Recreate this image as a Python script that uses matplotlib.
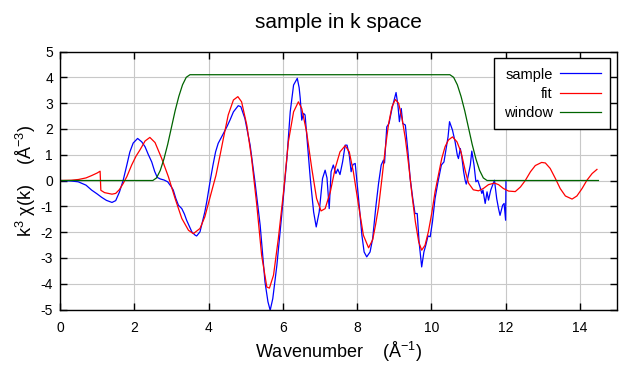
import matplotlib
matplotlib.use("Agg")
import matplotlib.pyplot as plt

plt.rcParams['font.family'] = ['Liberation Sans', 'DejaVu Sans']
plt.rcParams['mathtext.fontset'] = 'custom'
plt.rcParams['mathtext.rm'] = 'Liberation Sans'
plt.rcParams['mathtext.default'] = 'regular'
plt.rcParams['axes.unicode_minus'] = False

# sample data (k, k^3 chi)
k_sample = [0.0, 0.3, 0.49, 0.7, 0.85, 1.0, 1.12, 1.25, 1.4, 1.5, 1.6, 1.7, 1.8, 1.88, 1.97,
            2.09, 2.2, 2.29, 2.38, 2.47, 2.55, 2.62, 2.7, 2.8, 2.9, 3.0, 3.05, 3.12, 3.19,
            3.28, 3.35, 3.41, 3.55, 3.64, 3.68, 3.77, 3.9, 3.96, 4.04, 4.12, 4.19, 4.26,
            4.32, 4.4, 4.5, 4.58, 4.67, 4.8, 4.87, 4.98, 5.12, 5.25, 5.39, 5.52, 5.6, 5.66,
            5.73, 5.84, 5.97, 6.11, 6.2, 6.29, 6.39, 6.44, 6.47, 6.51, 6.56, 6.6, 6.66,
            6.74, 6.83, 6.9, 6.98, 7.07, 7.14, 7.19, 7.25, 7.3, 7.36, 7.43, 7.48, 7.54,
            7.61, 7.68, 7.73, 7.79, 7.84, 7.89, 7.95, 8.04, 8.13, 8.19, 8.26, 8.35, 8.42,
            8.51, 8.58, 8.65, 8.71, 8.74, 8.8, 8.86, 8.94, 9.01, 9.05, 9.1, 9.14, 9.19,
            9.23, 9.3, 9.37, 9.43, 9.5, 9.56, 9.62, 9.67, 9.74, 9.8, 9.85, 9.91, 9.97,
            10.03, 10.1, 10.18, 10.27, 10.34, 10.4, 10.45, 10.49, 10.57, 10.64, 10.7,
            10.73, 10.78, 10.82, 10.87, 10.91, 10.94, 10.98, 11.05, 11.09, 11.15, 11.2,
            11.25, 11.31, 11.36, 11.39, 11.45, 11.5, 11.54, 11.6, 11.65, 11.7, 11.76,
            11.81, 11.85, 11.92, 11.96, 12.0, 12.01]
chi_sample = [0.0, -0.02, -0.05, -0.18, -0.37, -0.52, -0.65, -0.77, -0.85, -0.78, -0.45, 0.0,
              0.6, 1.1, 1.45, 1.63, 1.5, 1.31, 1.0, 0.72, 0.35, 0.12, 0.06, 0.02, -0.05,
              -0.25, -0.37, -0.7, -0.96, -1.09, -1.3, -1.54, -1.99, -2.12, -2.15, -1.99,
              -1.22, -0.76, -0.05, 0.6, 1.11, 1.44, 1.6, 1.82, 2.1, 2.35, 2.66, 2.9, 2.86,
              2.4, 1.37, -0.05, -1.73, -3.93, -4.7, -5.03, -4.58, -3.29, -1.35, 0.85, 2.66,
              3.7, 3.96, 3.6, 3.18, 2.34, 2.6, 2.54, 1.5, 0.08, -1.22, -1.8, -1.22, 0.08,
              0.4, 0.1, -1.09, 0.34, 0.6, 0.27, 0.44, 0.23, 0.72, 1.37, 1.37, 0.98, 0.34,
              0.62, 0.66, -0.7, -2.12, -2.77, -2.96, -2.77, -2.25, -0.96, -0.1, 0.6, 0.79,
              0.68, 2.08, 2.21, 2.79, 3.18, 3.41, 2.92, 2.28, 2.79, 2.21, 2.15, 1.11, 0.08,
              -0.7, -1.28, -1.28, -2.38, -3.35, -2.77, -2.51, -2.15, -2.18, -1.6, -0.7,
              -0.05, 0.6, 0.72, 1.24, 1.69, 2.28, 1.95, 1.5, 0.98, 0.85, 1.24, 0.92, 0.34,
              0.01, -0.14, 0.09, 0.6, 1.14, 0.6, -0.05, 0.01, -0.25, -0.5, -0.37, -0.89,
              -0.44, -0.76, -0.37, -0.18, 0.01, -0.7, -1.09, -1.35, -0.96, -0.89, -1.54, 0.0]

# fit
k_fit = [0.0, 0.3, 0.5, 0.7, 0.85, 1.0, 1.08, 1.1, 1.2, 1.4, 1.5, 1.6, 1.7, 1.8, 1.93, 2.05,
         2.16, 2.29, 2.42, 2.56, 2.74, 2.92, 3.1, 3.28, 3.46, 3.59, 3.77, 3.9, 4.08, 4.2,
         4.32, 4.4, 4.53, 4.67, 4.79, 4.89, 5.03, 5.16, 5.3, 5.43, 5.57, 5.64, 5.75, 5.88,
         6.02, 6.15, 6.29, 6.42, 6.51, 6.64, 6.78, 6.91, 7.03, 7.14, 7.28, 7.41, 7.54, 7.68,
         7.79, 7.9, 8.04, 8.17, 8.31, 8.42, 8.5, 8.58, 8.67, 8.76, 8.85, 8.94, 9.03, 9.12,
         9.21, 9.3, 9.39, 9.48, 9.57, 9.66, 9.74, 9.83, 9.92, 10.01, 10.1, 10.19, 10.28,
         10.37, 10.46, 10.57, 10.69, 10.8, 10.91, 11.0, 11.13, 11.27, 11.4, 11.54, 11.7,
         11.81, 11.94, 12.08, 12.26, 12.4, 12.53, 12.67, 12.8, 12.97, 13.07, 13.2, 13.34,
         13.47, 13.61, 13.79, 13.92, 14.06, 14.19, 14.33, 14.46]
chi_fit = [0.0, 0.01, 0.04, 0.1, 0.19, 0.29, 0.36, -0.38, -0.47, -0.53, -0.5, -0.35, -0.12,
           0.15, 0.6, 0.95, 1.2, 1.53, 1.67, 1.47, 0.85, 0.14, -0.7, -1.47, -1.93, -2.06,
           -1.86, -1.41, -0.44, 0.2, 1.05, 1.63, 2.54, 3.12, 3.25, 3.05, 2.15, 0.85, -0.96,
           -2.9, -4.13, -4.17, -3.67, -2.25, -0.44, 1.5, 2.66, 3.05, 2.79, 1.89, 0.47, -0.7,
           -1.18, -1.09, -0.44, 0.47, 1.11, 1.35, 1.11, 0.34, -0.96, -2.12, -2.61, -2.3,
           -1.7, -1.02, 0.08, 1.24, 2.21, 2.86, 3.14, 2.99, 2.41, 1.63, 0.6, -0.57, -1.6,
           -2.38, -2.7, -2.51, -1.99, -1.28, -0.44, 0.21, 0.85, 1.31, 1.57, 1.69, 1.5, 1.1,
           0.4, -0.1, -0.36, -0.4, -0.31, -0.16, -0.1, -0.16, -0.31, -0.41, -0.43, -0.25,
           0.0, 0.34, 0.58, 0.7, 0.68, 0.47, 0.08, -0.31, -0.6, -0.72, -0.6, -0.31, 0.01,
           0.27, 0.43]

# window
k_win = [0.0, 2.5, 2.6, 2.7, 2.8, 2.9, 3.0, 3.1, 3.2, 3.3, 3.4, 3.5,
         10.5, 10.6, 10.7, 10.8, 10.9, 11.0, 11.1, 11.2, 11.3, 11.4, 11.5, 14.5]
w_win = [0.0, 0.0, 0.1, 0.39, 0.84, 1.4, 2.05, 2.7, 3.26, 3.71, 4.0, 4.1,
         4.1, 4.0, 3.71, 3.26, 2.7, 2.05, 1.4, 0.84, 0.39, 0.1, 0.0, 0.0]

fig, ax = plt.subplots(figsize=(6.4, 3.84), dpi=100)
fig.subplots_adjust(left=60/640, right=617/640, top=1-51.5/384, bottom=1-309.5/384)

ax.plot(k_sample, chi_sample, color='#0000ff', linewidth=0.9, label='sample')
ax.plot(k_fit, chi_fit, color='#ff0000', linewidth=0.9, label='fit')
ax.plot(k_win, w_win, color='#006400', linewidth=0.9, label='window')

ax.set_xlim(0, 15)
ax.set_ylim(-5, 5)
ax.set_xticks(range(0, 15, 2))
ax.set_yticks(range(-5, 6))
ax.grid(True, color='#c8c8c8', linewidth=0.8)
ax.set_axisbelow(True)
ax.tick_params(direction='in', length=5, width=1, top=True, right=True, labelsize=10)
ax.tick_params(axis='x', pad=8)
ax.tick_params(axis='y', pad=5)
for s in ax.spines.values():
    s.set_linewidth(1)

ax.set_title('sample in k space', fontsize=15, pad=17)
ax.set_xlabel('Wavenumber    (Å$^{-1}$)', fontsize=13, labelpad=4)
ax.set_ylabel('k$^3$ χ(k)    (Å$^{-3}$)', fontsize=13, labelpad=2)

leg = ax.legend(loc='upper right', markerfirst=False, fancybox=False, framealpha=1,
                edgecolor='black', fontsize=10.5, handlelength=2.8, borderaxespad=0.45,
                labelspacing=0.35, handletextpad=0.5, borderpad=0.65)
leg.get_frame().set_linewidth(1)

fig.savefig('out.png', dpi=100)
